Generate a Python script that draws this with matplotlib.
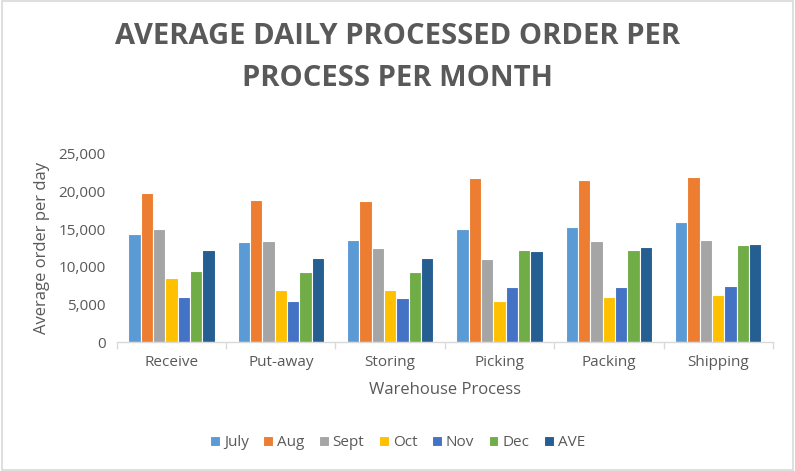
import matplotlib
matplotlib.use("Agg")
import matplotlib.pyplot as plt
import numpy as np
from matplotlib.patches import Rectangle

categories = ["Receive", "Put-away", "Storing", "Picking", "Packing", "Shipping"]
series_names = ["July", "Aug", "Sept", "Oct", "Nov", "Dec", "AVE"]
july = [14400, 13260, 13610, 14990, 15290, 15910]
aug = [19760, 18830, 18740, 21830, 21520, 21920]
sept = [14990, 13480, 12470, 11090, 13480, 13570]
octo = [8530, 6980, 6980, 5480, 6000, 6230]
nov = [6000, 5480, 5920, 7380, 7340, 7510]
dec = [9410, 9370, 9280, 12240, 12240, 12860]
ave = [12200, 11220, 11180, 12160, 12640, 13000]
values = [july, aug, sept, octo, nov, dec, ave]
colors = ["#5B9BD5", "#ED7D31", "#A5A5A5", "#FFC000", "#4472C4", "#70AD47", "#255E91"]
yticks = [0, 5000, 10000, 15000, 20000, 25000]

plt.rcParams['font.family'] = ['Open Sans', 'DejaVu Sans']
txt = "#595959"

fig = plt.figure(figsize=(7.95, 4.71), dpi=100)
fig.patches.append(Rectangle((0.002, 0.003), 0.996, 0.994, transform=fig.transFigure,
                             fill=False, edgecolor="#D9D9D9", linewidth=1.2))
ax = fig.add_axes([0.1468, 0.2732, 0.8255, 0.4003])

n = len(series_names)
x = np.arange(len(categories))
slot = 0.79 / n
for i, (name, vals, c) in enumerate(zip(series_names, values, colors)):
    ax.bar(x - 0.395 + slot * (i + 0.5), vals, width=slot, color=c,
           edgecolor="white", linewidth=0.8, label=name)

ax.set_xlim(-0.5, len(categories) - 0.5)
ax.set_ylim(0, 25000)
ax.set_yticks(yticks)
ax.set_yticklabels([f"{v:,}" for v in yticks], fontsize=11, color=txt)
ax.set_xticks(x)
ax.set_xticklabels(categories, fontsize=11, color=txt)
ax.tick_params(axis='x', length=0, pad=9)
ax.tick_params(axis='y', length=0, pad=8)
ax.set_xticks(np.arange(-0.5, len(categories)), minor=True)
ax.tick_params(axis='x', which='minor', length=5, color="#D9D9D9", width=1)
for s in ["top", "right", "left"]:
    ax.spines[s].set_visible(False)
ax.spines["bottom"].set_color("#D9D9D9")
ax.spines["bottom"].set_linewidth(1)

ax.set_ylabel("Average order per day", fontsize=12, color=txt, labelpad=6)
ax.set_xlabel("Warehouse Process", fontsize=12, color=txt, labelpad=9)

fig.text(0.5, 0.878, "AVERAGE DAILY PROCESSED ORDER PER\nPROCESS PER MONTH",
         ha="center", va="center", fontsize=21, fontweight="bold", color=txt,
         linespacing=1.55)

leg = fig.legend(loc="center", bbox_to_anchor=(0.5, 0.06), ncol=7, frameon=False,
                 fontsize=11, handlelength=0.65, handleheight=0.65, handletextpad=0.25,
                 columnspacing=0.95)
for t in leg.get_texts():
    t.set_color(txt)

fig.savefig("out.png", dpi=100)
